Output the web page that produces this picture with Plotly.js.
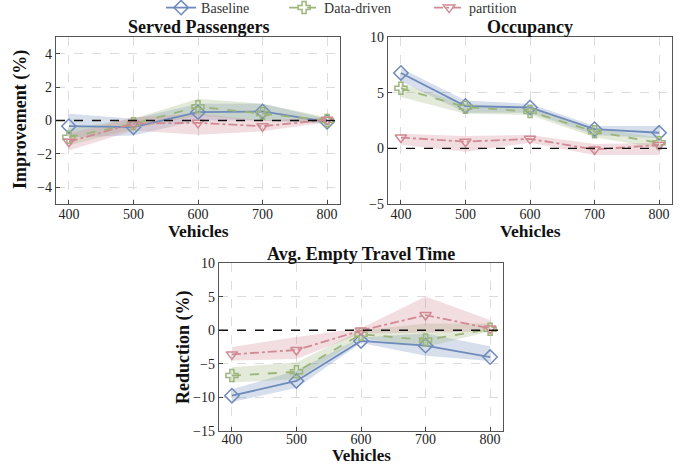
<!DOCTYPE html>
<html><head><meta charset="utf-8">
<script src="https://cdn.plot.ly/plotly-3.0.1.min.js"></script>
<style>html,body{margin:0;padding:0;background:#fff}#chart{width:682px;height:465px}</style>
</head><body><div id="chart"></div>
<script>
const vehicles = [400, 500, 600, 700, 800];
const seriesNames = ["Baseline", "Data-driven", "partition"];

// Served Passengers (Improvement %)
const spBaseline = [-0.34, -0.4, 0.5, 0.54, -0.08];
const spBaselineLo = [-1.0, -0.9, 0.0, 0.0, -0.2];
const spBaselineHi = [0.4, 0.1, 1.0, 1.0, 0.1];
const spData = [-1.0, -0.2, 0.82, 0.42, 0.0];
const spDataLo = [-1.5, -0.5, 0.3, 0.0, -0.1];
const spDataHi = [-0.5, 0.1, 1.3, 1.0, 0.2];
const spPart = [-1.27, -0.18, -0.14, -0.34, 0.04];
const spPartLo = [-1.8, -0.6, -0.85, -0.65, -0.1];
const spPartHi = [-0.8, 0.2, 0.4, 0.0, 0.2];

// Occupancy (Improvement %)
const ocBaseline = [6.77, 3.8, 3.67, 1.72, 1.4];
const ocBaselineLo = [6.0, 3.2, 3.2, 1.2, 0.9];
const ocBaselineHi = [7.2, 4.3, 4.0, 2.0, 2.0];
const ocData = [5.4, 3.7, 3.3, 1.5, 0.5];
const ocDataLo = [4.6, 3.1, 3.0, 1.0, 0.0];
const ocDataHi = [5.8, 4.0, 3.6, 1.8, 1.0];
const ocPart = [0.97, 0.6, 0.85, -0.1, 0.3];
const ocPartLo = [0.3, -0.3, 0.5, -0.6, -0.6];
const ocPartHi = [1.3, 1.1, 1.2, 0.4, 0.5];

// Avg. Empty Travel Time (Reduction %)
const etBaseline = [-9.75, -7.55, -1.6, -2.3, -4.0];
const etBaselineLo = [-10.7, -8.6, -1.9, -3.8, -4.6];
const etBaselineHi = [-8.8, -6.0, -1.1, -0.5, -2.4];
const etData = [-6.75, -6.2, -0.6, -1.45, 0.15];
const etDataLo = [-7.8, -7.3, -1.2, -2.5, -0.2];
const etDataHi = [-5.5, -4.8, 0.0, 1.0, 1.0];
const etPart = [-3.6, -2.95, -0.05, 2.25, 0.25];
const etPartLo = [-4.5, -4.3, -0.5, -0.3, -0.2];
const etPartHi = [-2.5, -1.0, 0.3, 5.0, 1.5];

const colors = ["#6f8bbb", "#9bb57a", "#d08a93"];
const fills = ["rgba(111,139,187,0.28)", "rgba(155,181,122,0.28)", "rgba(208,138,147,0.28)"];
const dashes = ["solid", "dash", "dashdot"];
const symbols = ["diamond-open", "cross-open", "triangle-down-open"];
const msizes = [11, 10, 10];
const legendWidths = [78, 100, 55];

const panels = [
  {xa: "x", ya: "y", data: [[spBaseline, spBaselineLo, spBaselineHi], [spData, spDataLo, spDataHi], [spPart, spPartLo, spPartHi]]},
  {xa: "x2", ya: "y2", data: [[ocBaseline, ocBaselineLo, ocBaselineHi], [ocData, ocDataLo, ocDataHi], [ocPart, ocPartLo, ocPartHi]]},
  {xa: "x3", ya: "y3", data: [[etBaseline, etBaselineLo, etBaselineHi], [etData, etDataLo, etDataHi], [etPart, etPartLo, etPartHi]]}
];

const traces = [];
panels.forEach((p, pi) => {
  p.data.forEach((d, si) => {
    traces.push({
      x: vehicles.concat(vehicles.slice().reverse()),
      y: d[1].concat(d[2].slice().reverse()),
      xaxis: p.xa, yaxis: p.ya, type: "scatter", mode: "lines",
      fill: "toself", fillcolor: fills[si], line: {width: 0, color: "rgba(0,0,0,0)"},
      showlegend: false, hoverinfo: "skip"
    });
  });
});
panels.forEach((p, pi) => {
  p.data.forEach((d, si) => {
    traces.push({
      x: vehicles, y: d[0], xaxis: p.xa, yaxis: p.ya, type: "scatter", mode: "lines+markers",
      name: seriesNames[si], legendgroup: seriesNames[si], showlegend: pi === 0,
      legendwidth: legendWidths[si],
      line: {color: colors[si], width: 1.8, dash: dashes[si]},
      marker: {symbol: symbols[si], size: msizes[si], color: colors[si], line: {color: colors[si], width: 1.5}}
    });
  });
});

const fam = '"Liberation Serif", "DejaVu Serif", serif';
const font = {family: fam, size: 14, color: "#222"};
function xax(dom, anchor, standoff) {
  return {domain: dom, anchor: anchor, range: [380, 820], tickvals: vehicles,
    ticks: "inside", ticklen: 4, tickcolor: "#444", showline: true, mirror: true, linecolor: "#555", linewidth: 1.2,
    showgrid: true, gridcolor: "#dcdcdc", griddash: "dash", gridwidth: 1, zeroline: false, tickfont: font,
    ticklabelstandoff: standoff};
}
function yax(dom, anchor, range, dtick) {
  return {domain: dom, anchor: anchor, range: range, dtick: dtick,
    ticks: "inside", ticklen: 4, tickcolor: "#444", showline: true, mirror: true, linecolor: "#555", linewidth: 1.2,
    showgrid: true, gridcolor: "#dcdcdc", griddash: "dash", gridwidth: 1, zeroline: false, tickfont: font};
}
const W = 682, H = 465;
const px = v => v / W, py = v => 1 - v / H;

const titleFont = {family: fam, size: 18, color: "#111", weight: "bold"};
function ann(text, x, y, angle, size) {
  return {text: text, x: px(x), y: py(y), xref: "paper", yref: "paper", xanchor: "center", yanchor: "middle",
    showarrow: false, textangle: angle || 0, font: Object.assign({}, titleFont, size ? {size: size} : {})};
}
const layout = {
  width: W, height: H, margin: {l: 0, r: 0, t: 0, b: 0, autoexpand: false},
  paper_bgcolor: "#fff", plot_bgcolor: "#fff", font: font,
  xaxis: xax([px(56), px(340)], "y", -3),
  yaxis: yax([py(204), py(37)], "x", [-5, 5], 2),
  xaxis2: xax([px(388), px(672)], "y2", -3),
  yaxis2: yax([py(204), py(37)], "x2", [-5, 10], 5),
  xaxis3: xax([px(219), px(503)], "y3", -5),
  yaxis3: yax([py(431), py(263)], "x3", [-15, 10], 5),
  legend: {orientation: "h", x: 0.506, xanchor: "center", y: py(8), yanchor: "middle",
    font: {family: fam, size: 14, color: "#333"}, bgcolor: "rgba(0,0,0,0)", tracegroupgap: 0},
  shapes: [["x", "y"], ["x2", "y2"], ["x3", "y3"]].map(a => ({
    type: "line", xref: a[0] + " domain", yref: a[1], x0: 0, x1: 1, y0: 0, y1: 0,
    line: {color: "#111", width: 1.4, dash: "dash"}
  })),
  annotations: [
    ann("Served Passengers", 198, 27),
    ann("Occupancy", 530, 27),
    ann("Avg. Empty Travel Time", 361, 254),
    ann("Vehicles", 198, 231, 0, 17.5),
    ann("Vehicles", 530, 231, 0, 17.5),
    ann("Vehicles", 361, 455, 0, 17),
    ann("Improvement (%)", 20, 120, -90),
    ann("Reduction (%)", 183, 347, -90)
  ]
};
Plotly.newPlot("chart", traces, layout, {displayModeBar: false, staticPlot: true});
</script></body></html>
